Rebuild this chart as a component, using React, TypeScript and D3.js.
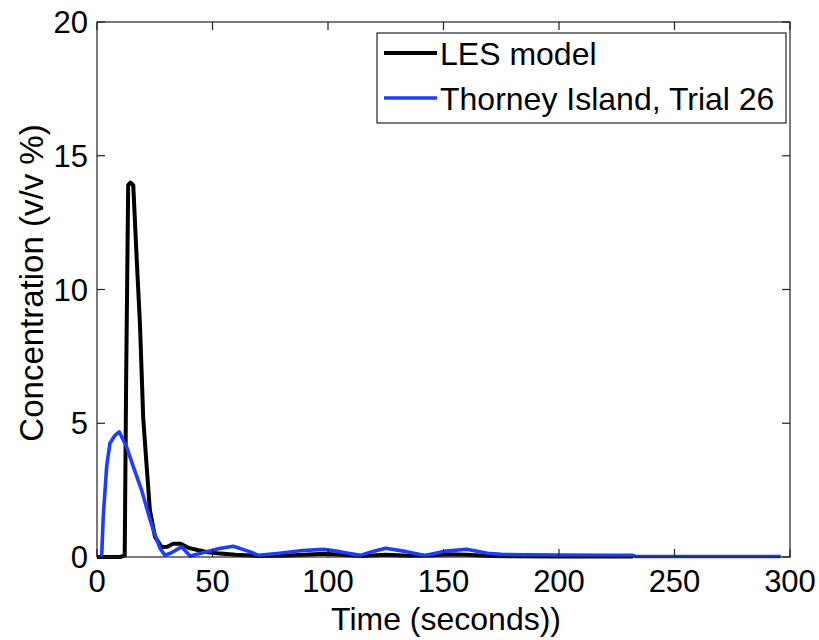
import React from 'react';
import * as d3 from 'd3';

// LES model (black)
const lesTime = [0, 5, 10, 12, 12.6, 13.5, 14.5, 15.7, 17.1, 18.6, 20, 21.5, 22.9, 25.1, 28, 30.5, 33, 36, 40, 44, 48, 52, 60, 70, 80, 90, 98, 106, 115, 125, 135, 145, 152, 160, 170, 180, 200, 220, 232];
const lesConc = [0, 0, 0, 0.05, 6.5, 13.9, 14.0, 13.9, 11.3, 8.7, 5.2, 3.4, 1.75, 0.75, 0.37, 0.38, 0.5, 0.5, 0.33, 0.25, 0.18, 0.14, 0.08, 0.04, 0.05, 0.08, 0.12, 0.08, 0.04, 0.08, 0.05, 0.06, 0.1, 0.08, 0.04, 0.03, 0.02, 0.02, 0.02];

// Thorney Island, Trial 26 (blue)
const trialTime = [2, 2.7, 4.2, 5.6, 7.8, 9.6, 12.8, 15.7, 19.3, 22.2, 24.4, 27.3, 29.4, 32, 36.6, 40.3, 47.5, 53, 59, 66, 70, 79, 89, 98, 105, 114, 119, 125, 134, 142, 151, 160, 169, 175, 185, 200, 220, 232, 233, 260, 296];
const trialConc = [0, 1.5, 3.4, 4.25, 4.55, 4.68, 4.12, 3.38, 2.5, 1.63, 1.0, 0.32, 0.07, 0.15, 0.38, 0.04, 0.2, 0.32, 0.4, 0.2, 0.06, 0.14, 0.24, 0.29, 0.2, 0.06, 0.2, 0.33, 0.2, 0.06, 0.22, 0.29, 0.14, 0.1, 0.08, 0.07, 0.06, 0.06, 0.02, 0.02, 0.02];

const xTicks = [0, 50, 100, 150, 200, 250, 300];
const yTicks = [0, 5, 10, 15, 20];
const legendLabels = ['LES model', 'Thorney Island, Trial 26'];
const colors = ['#000000', '#1f3dff'];

const W = 819;
const H = 640;
const left = 97, right = 790, top = 22, bottom = 557;
const font = '"Liberation Sans", Arial, Helvetica, sans-serif';

export default function App() {
  const x = d3.scaleLinear().domain([0, 300]).range([left, right]);
  const y = d3.scaleLinear().domain([0, 20]).range([bottom, top]);

  const line = d3
    .line<[number, number]>()
    .x((d) => x(d[0]))
    .y((d) => y(d[1]));

  const les = lesTime.map((t, i) => [t, lesConc[i]] as [number, number]);
  const trial = trialTime.map((t, i) => [t, trialConc[i]] as [number, number]);
  const tick = 8;

  return (
    <svg width={W} height={H} style={{ position: 'absolute', left: 0, top: 0, background: '#fff' }}>
      <rect x={0} y={0} width={W} height={H} fill="#fff" />
      {/* data */}
      <path d={line(les) || ''} fill="none" stroke={colors[0]} strokeWidth={4} strokeLinejoin="round" />
      <path d={line(trial) || ''} fill="none" stroke={colors[1]} strokeWidth={3.6} strokeLinejoin="round" />

      {/* axes box */}
      <rect x={left} y={top} width={right - left} height={bottom - top} fill="none" stroke="#222" strokeWidth={1.2} />
      {xTicks.map((t) => (
        <g key={'x' + t}>
          <line x1={x(t)} x2={x(t)} y1={bottom} y2={bottom - tick} stroke="#222" strokeWidth={1.2} />
          <line x1={x(t)} x2={x(t)} y1={top} y2={top + tick} stroke="#222" strokeWidth={1.2} />
          <text x={x(t)} y={592} textAnchor="middle" fontFamily={font} fontSize={31} fill="#000">
            {t}
          </text>
        </g>
      ))}
      {yTicks.map((t) => (
        <g key={'y' + t}>
          <line x1={left} x2={left + tick} y1={y(t)} y2={y(t)} stroke="#222" strokeWidth={1.2} />
          <line x1={right} x2={right - tick} y1={y(t)} y2={y(t)} stroke="#222" strokeWidth={1.2} />
          <text x={88} y={y(t) + 11} textAnchor="end" fontFamily={font} fontSize={31} fill="#000">
            {t}
          </text>
        </g>
      ))}

      {/* axis labels */}
      <text x={446} y={630} textAnchor="middle" fontFamily={font} fontSize={32} fill="#000">
        Time (seconds))
      </text>
      <text
        transform="translate(43, 283) rotate(-90)"
        textAnchor="middle"
        fontFamily={font}
        fontSize={33}
        fill="#000"
      >
        Concentration (v/v %)
      </text>

      {/* legend */}
      <rect x={377} y={33} width={409} height={90} fill="#fff" stroke="#222" strokeWidth={1.2} />
      {legendLabels.map((lab, i) => (
        <g key={lab}>
          <line x1={384} x2={437} y1={53 + i * 45} y2={53 + i * 45} stroke={colors[i]} strokeWidth={i === 0 ? 4 : 3.6} />
          <text x={440} y={64.5 + i * 45} fontFamily={font} fontSize={32} fill="#000">
            {lab}
          </text>
        </g>
      ))}
    </svg>
  );
}
